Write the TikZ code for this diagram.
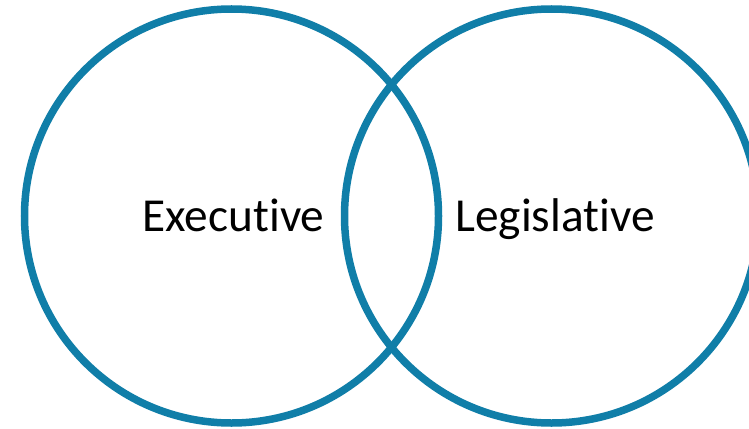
\documentclass[tikz,border=0pt]{standalone}
\usepackage{fontspec}
\setmainfont[RawFeature=-liga]{Carlito}
\definecolor{ring}{RGB}{16,126,168}
\begin{document}
\begin{tikzpicture}[x=1bp,y=1bp,
  setcircle/.style={draw=ring,line width=7.5bp,circle,minimum size=414bp,inner sep=0pt},
  lbl/.style={font=\fontsize{47.5}{57}\selectfont,inner sep=0pt,anchor=base}]
\useasboundingbox (0,0) rectangle (749,428);
\node[setcircle] (exec) at (231.5,212) {};
\node[setcircle] (leg) at (551.5,212) {};
\node[lbl] (t1) at (233.5,197) {Executive};
\node[lbl] (t2) at (555,197) {Legislative};
\end{tikzpicture}
\end{document}
